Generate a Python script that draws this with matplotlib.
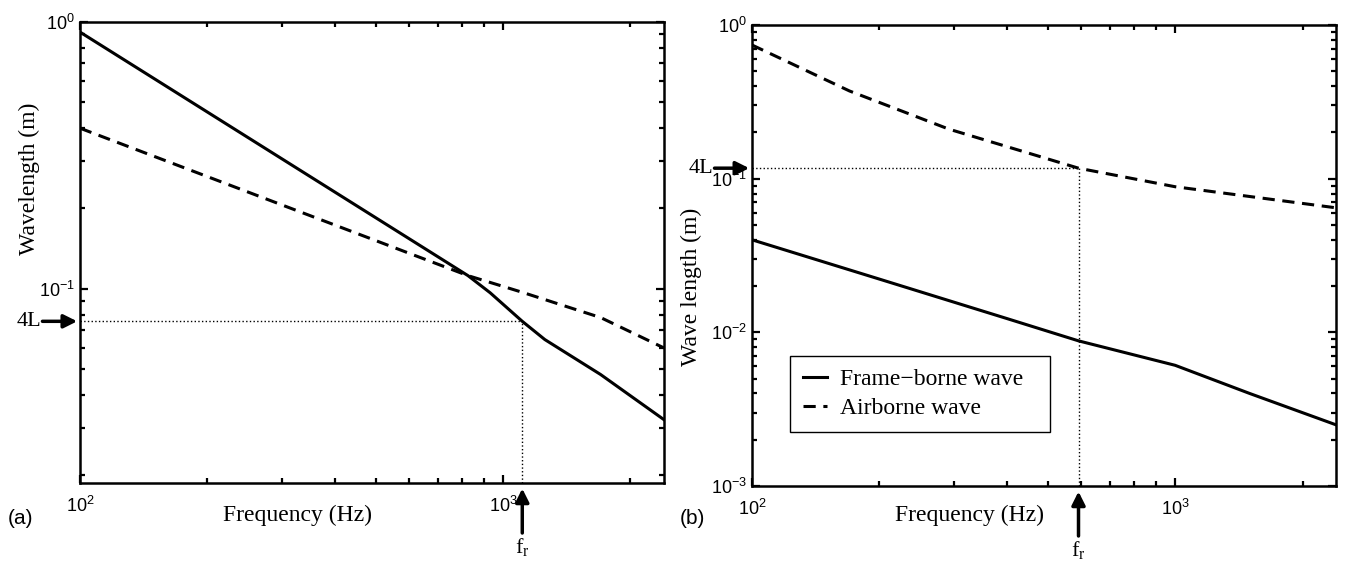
import matplotlib
matplotlib.use('Agg')
import matplotlib.pyplot as plt
from matplotlib.ticker import LogLocator, NullFormatter

SERIF = ['Liberation Serif', 'DejaVu Serif']
SANS = ['Liberation Sans', 'DejaVu Sans']
plt.rcParams['mathtext.fontset'] = 'custom'
plt.rcParams['mathtext.rm'] = 'Liberation Sans'
plt.rcParams['mathtext.it'] = 'Liberation Serif:italic'

# panel (a) values
freq_a_frame = [100, 826, 932, 1110, 1255, 1700, 2400]
frame_a = [0.917, 0.112, 0.0966, 0.0755, 0.0645, 0.0477, 0.0323]
freq_a_air = [100, 826, 1110, 1700, 2400]
air_a = [0.40, 0.112, 0.097, 0.078, 0.060]
fr_a, fourL_a = 1110, 0.0755

# panel (b) values
freq_b_frame = [100, 200, 400, 591, 1000, 1500, 2400]
frame_b = [0.040, 0.0222, 0.0123, 0.0088, 0.0061, 0.0040, 0.0025]
freq_b_air = [100, 170, 292, 591, 1000, 2400]
air_b = [0.741, 0.372, 0.21, 0.117, 0.0886, 0.0646]
fr_b, fourL_b = 591, 0.117

xlim = (100, 2400)
ylim_a = (0.0187, 1.0)
ylim_b = (1e-3, 1.0)

fig = plt.figure(figsize=(13.46, 5.63), dpi=100)
ax1 = fig.add_axes([0.0594, 0.1421, 0.4339, 0.8188])
ax2 = fig.add_axes([0.5587, 0.1368, 0.4339, 0.8188])


def style(ax, ylim):
    ax.set_xscale('log'); ax.set_yscale('log')
    ax.set_xlim(*xlim); ax.set_ylim(*ylim)
    ax.xaxis.set_major_locator(LogLocator(base=10, numticks=10))
    ax.yaxis.set_major_locator(LogLocator(base=10, numticks=10))
    ax.xaxis.set_minor_locator(LogLocator(base=10, subs=range(2, 10), numticks=20))
    ax.yaxis.set_minor_locator(LogLocator(base=10, subs=range(2, 10), numticks=20))
    ax.xaxis.set_minor_formatter(NullFormatter())
    ax.yaxis.set_minor_formatter(NullFormatter())
    ax.tick_params(which='both', direction='in', top=True, right=True,
                   width=1.6, labelsize=13, labelfontfamily='Liberation Sans')
    ax.tick_params(which='major', length=6)
    ax.tick_params(which='minor', length=3.5)
    ax.tick_params(axis='x', pad=9)
    for s in ax.spines.values():
        s.set_linewidth(1.8)


def marks(ax, fr, fl):
    ax.plot([xlim[0], fr], [fl, fl], ls=':', color='k', lw=1)
    ax.plot([fr, fr], [ax.get_ylim()[0], fl], ls=':', color='k', lw=1)
    ax.annotate('', xy=(0, fl), xycoords=('axes fraction', 'data'),
                xytext=(-27, 0), textcoords='offset points',
                arrowprops=dict(arrowstyle='-|>', color='k', lw=2.5,
                                mutation_scale=20, shrinkA=0, shrinkB=2))
    ax.annotate('4L', xy=(0, fl), xycoords=('axes fraction', 'data'),
                xytext=(-28, 0), textcoords='offset points',
                ha='right', va='center', fontsize=16, family=SERIF)
    ax.annotate('', xy=(fr, 0), xycoords=('data', 'axes fraction'),
                xytext=(0, -36), textcoords='offset points',
                arrowprops=dict(arrowstyle='-|>', color='k', lw=2.5,
                                mutation_scale=20, shrinkA=0, shrinkB=4))
    ax.annotate(r'f$_{\mathregular{r}}$', xy=(fr, 0), xycoords=('data', 'axes fraction'),
                xytext=(0, -38), textcoords='offset points',
                ha='center', va='top', fontsize=16, family=SERIF)


# (a)
style(ax1, ylim_a)
ax1.plot(freq_a_frame, frame_a, '-', color='k', lw=2.2)
ax1.plot(freq_a_air, air_a, '--', color='k', lw=2.2, dashes=(4, 2.5))
marks(ax1, fr_a, fourL_a)
ax1.set_xlabel('Frequency (Hz)', fontsize=17, family=SERIF)
ax1.xaxis.set_label_coords(0.373, -0.047)
ax1.set_ylabel('Wavelength (m)', fontsize=17, family=SERIF)
ax1.yaxis.set_label_coords(-0.068, 0.66)
fig.text(0.006, 0.079, '(a)', fontsize=15, family=SANS, va='center')

# (b)
style(ax2, ylim_b)
ax2.plot(freq_b_frame, frame_b, '-', color='k', lw=2.2, label='Frame\u2212borne wave')
ax2.plot(freq_b_air, air_b, '--', color='k', lw=2.2, dashes=(4, 2.5), label='Airborne wave')
marks(ax2, fr_b, fourL_b)
ax2.set_xlabel('Frequency (Hz)', fontsize=17, family=SERIF)
ax2.xaxis.set_label_coords(0.373, -0.041)
ax2.set_ylabel('Wave length (m)', fontsize=17, family=SERIF)
ax2.yaxis.set_label_coords(-0.086, 0.432)
fig.text(0.505, 0.079, '(b)', fontsize=15, family=SANS, va='center')
leg = ax2.legend(loc='lower left', bbox_to_anchor=(0.065, 0.117, 0.445, 0.174),
                 mode='expand', fancybox=False, framealpha=1, edgecolor='k',
                 prop={'family': SERIF, 'size': 17}, handlelength=1.0,
                 handletextpad=0.55, borderpad=0.55, labelspacing=0.3,
                 borderaxespad=0)
leg.get_frame().set_linewidth(1.0)

fig.savefig('out.png', dpi=100, facecolor='white')
